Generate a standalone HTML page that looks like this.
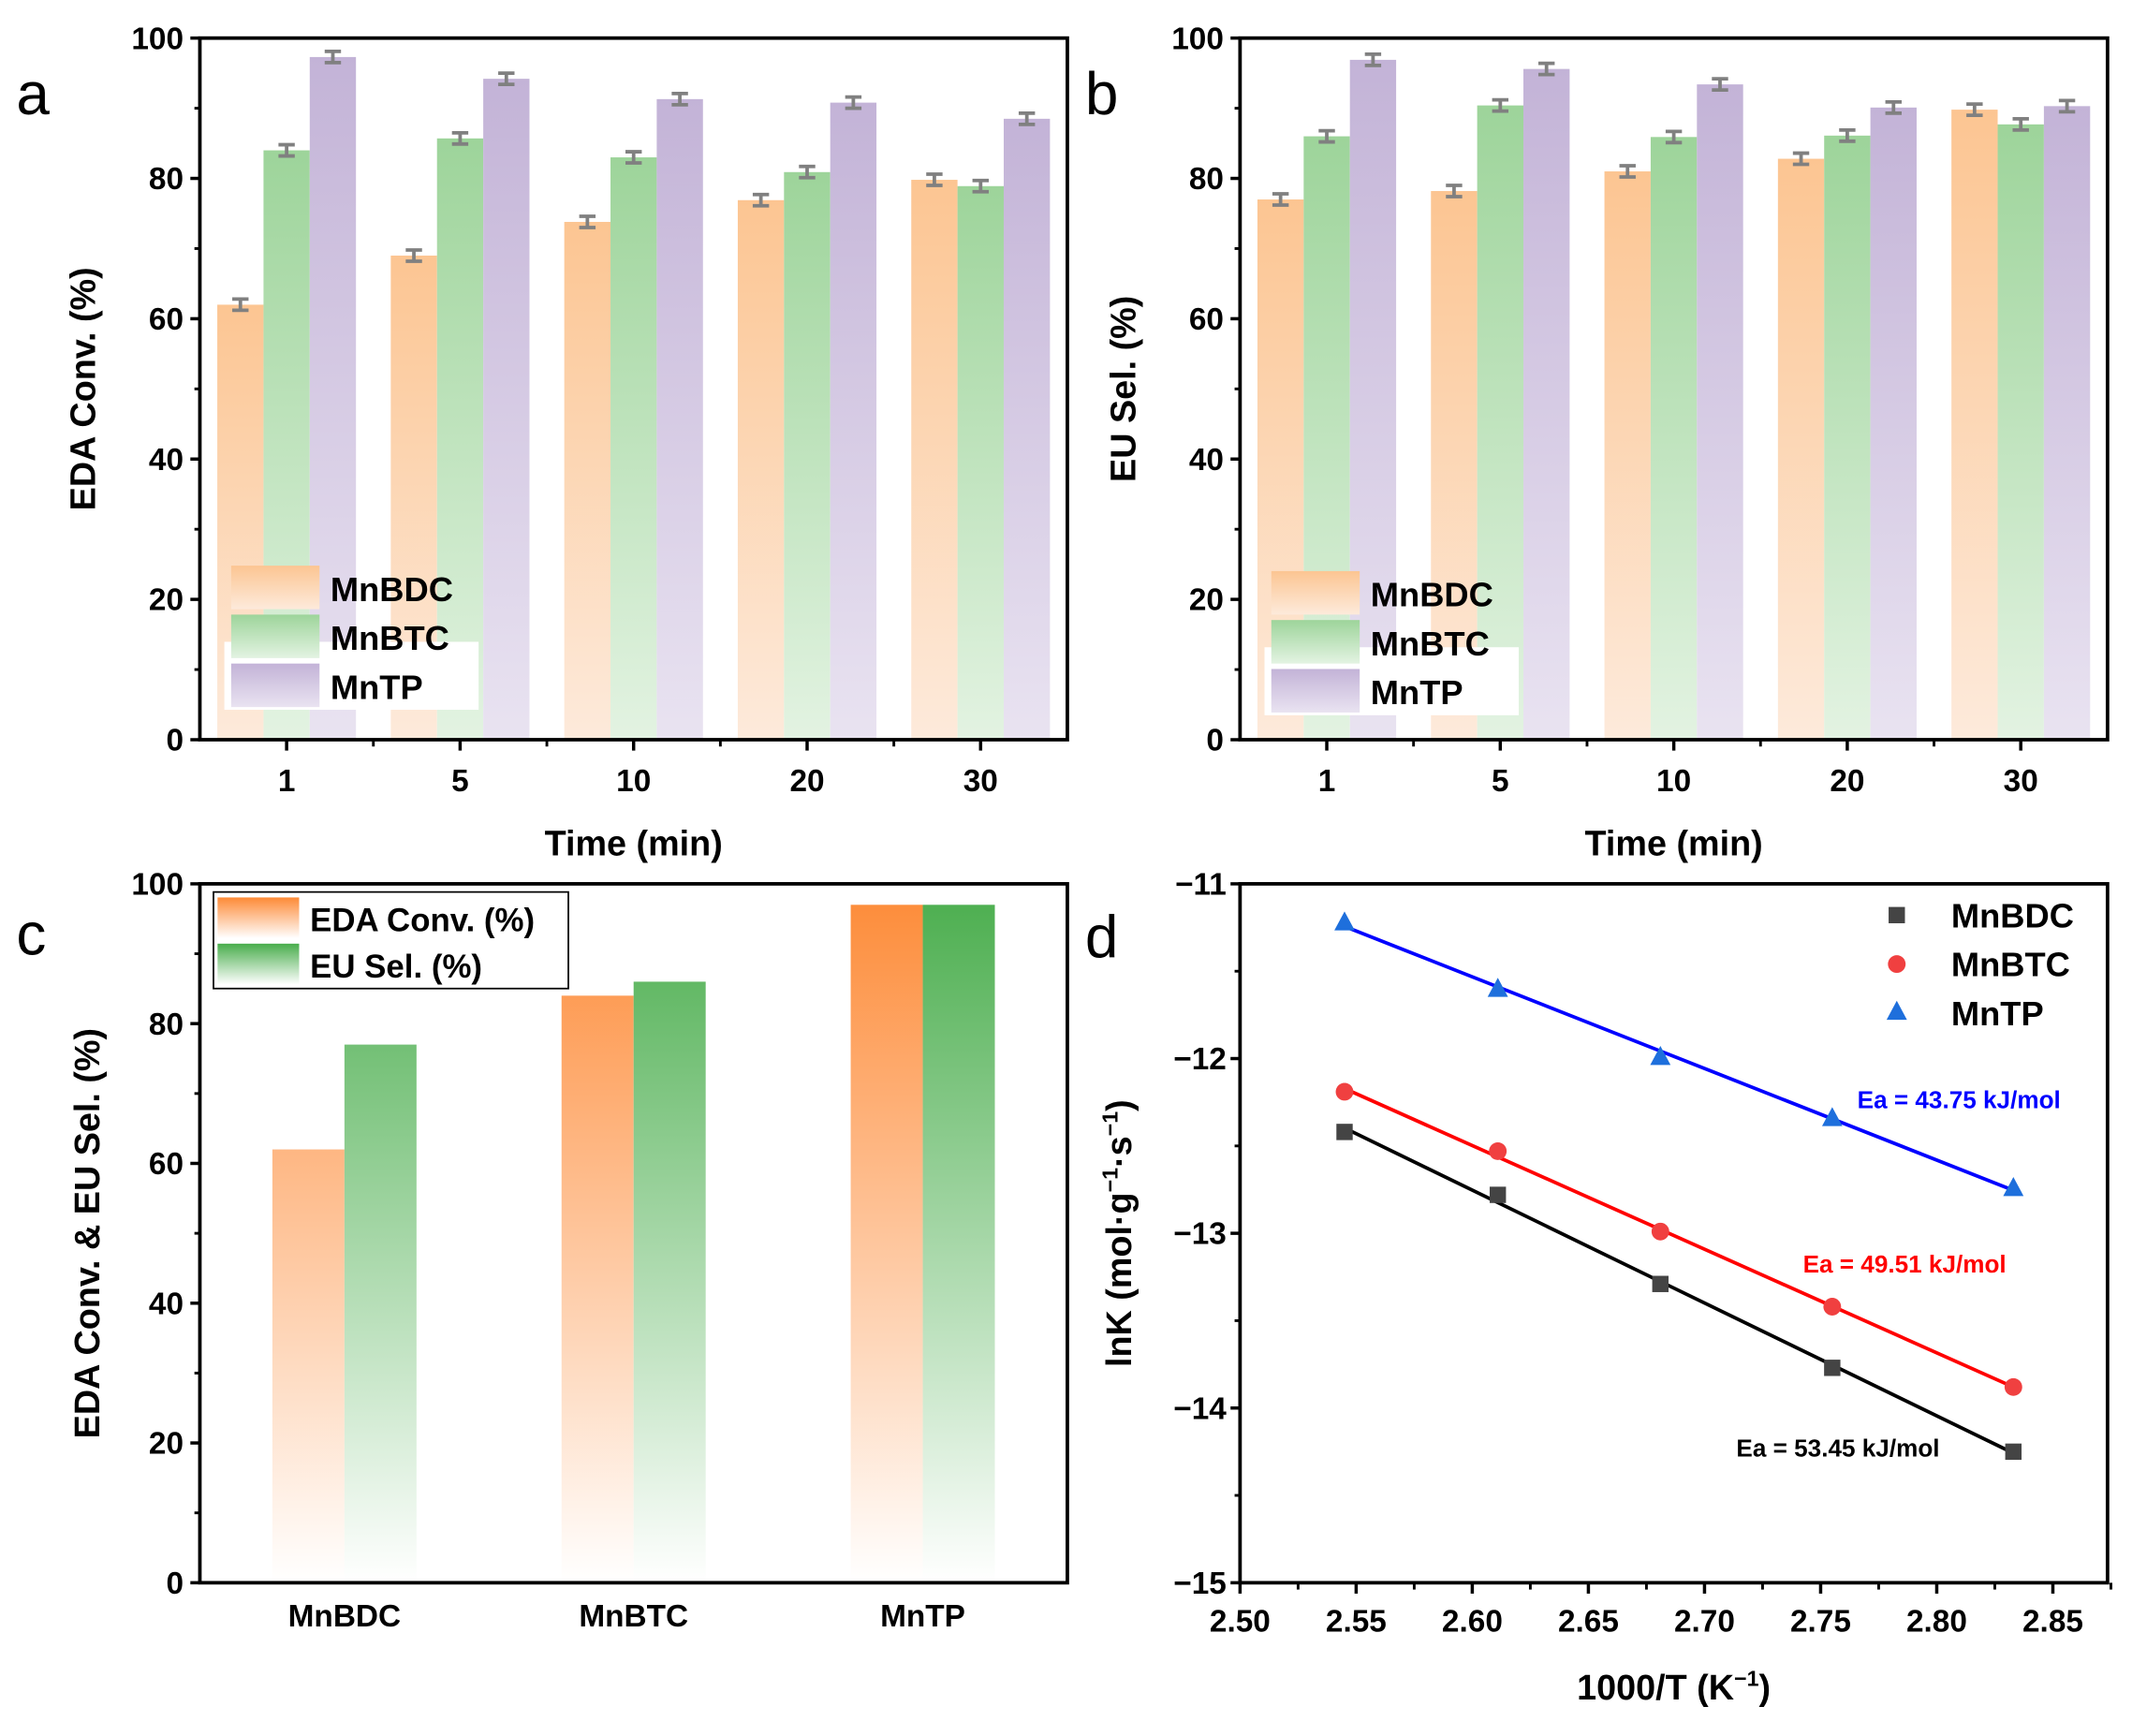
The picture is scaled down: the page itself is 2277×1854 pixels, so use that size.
<!DOCTYPE html>
<html><head><meta charset="utf-8"><style>
html,body{margin:0;padding:0;background:#fff;}
svg{display:block;font-family:"Liberation Sans",Arial,sans-serif;font-weight:bold;}
</style></head><body>
<svg id="fig" xmlns="http://www.w3.org/2000/svg" width="2277" height="1854" viewBox="0 0 1568 1276.7">
<defs>
<linearGradient id="gOr" x1="0" y1="0" x2="0" y2="1"><stop offset="0" stop-color="#fcc592"/><stop offset="1" stop-color="#fdeadb"/></linearGradient>
<linearGradient id="gGr" x1="0" y1="0" x2="0" y2="1"><stop offset="0" stop-color="#9dd49a"/><stop offset="1" stop-color="#e3f3e2"/></linearGradient>
<linearGradient id="gPu" x1="0" y1="0" x2="0" y2="1"><stop offset="0" stop-color="#c3b3d7"/><stop offset="1" stop-color="#e9e3f1"/></linearGradient>
<linearGradient id="gOrC" gradientUnits="userSpaceOnUse" x1="0" y1="650" x2="0" y2="1164"><stop offset="0" stop-color="#fd8a36"/><stop offset="1" stop-color="#ffffff"/></linearGradient>
<linearGradient id="gGrC" gradientUnits="userSpaceOnUse" x1="0" y1="650" x2="0" y2="1164"><stop offset="0" stop-color="#49ad4c"/><stop offset="1" stop-color="#ffffff"/></linearGradient>
<linearGradient id="gOrL" x1="0" y1="0" x2="0" y2="1"><stop offset="0" stop-color="#fd8a36"/><stop offset="1" stop-color="#ffffff"/></linearGradient>
<linearGradient id="gGrL" x1="0" y1="0" x2="0" y2="1"><stop offset="0" stop-color="#49ad4c"/><stop offset="1" stop-color="#ffffff"/></linearGradient>
</defs>
</svg>
<script>
const categoriesAB = ['1','5','10','20','30'];
const convBDC = [62, 69, 73.8, 76.9, 79.8];
const convBTC = [84, 85.7, 83, 80.9, 78.9];
const convTP = [97.3, 94.2, 91.3, 90.8, 88.5];
const selBDC = [77, 78.2, 81, 82.8, 89.8];
const selBTC = [86, 90.4, 85.9, 86.1, 87.7];
const selTP = [96.9, 95.6, 93.4, 90.1, 90.3];
const errAB = 0.8;
const yTicksPct = [0,20,40,60,80,100];
const categoriesC = ['MnBDC','MnBTC','MnTP'];
const edaConv = [62, 84, 97];
const euSel = [77, 86, 97];
const xD = [2.545, 2.611, 2.681, 2.755, 2.833];
const lnBDC = [-12.42, -12.78, -13.29, -13.77, -14.25];
const lnBTC = [-12.19, -12.53, -12.99, -13.42, -13.88];
const lnTP = [-11.22, -11.60, -11.99, -12.34, -12.74];
const xTicksD = [2.50,2.55,2.60,2.65,2.70,2.75,2.80,2.85];
const yTicksD = [-11,-12,-13,-14,-15];

const svg = document.getElementById('fig');
const NS = 'http://www.w3.org/2000/svg';
function mk(tag, attrs, parent){const e=document.createElementNS(NS,tag);for(const k in attrs)e.setAttribute(k,attrs[k]);(parent||svg).appendChild(e);return e;}
function txt(s, attrs, parent){const e=mk('text',attrs,parent);e.textContent=s;return e;}
const TICKFS=23;

function frame(g,L,T,R,B){
  const r=mk('rect',{x:L,y:T,width:R-L,height:B-T,fill:'none',stroke:'#000','stroke-width':2.6},g);
  
  
}

function barPanel(name,L,T,R,B,series,grads,ytitle,letter,legendY){
  const g=mk('g',{});
  
  
  const y=v=>B-(v/100)*(B-T);
  const bw=(R-L)/categoriesAB.length;
  const x=i=>L+bw*(i+0.5);
  const w=34;
  series.forEach((s,si)=>{
    s.forEach((v,i)=>{
      const bx=x(i)+(si-1.5)*w;
      const r=mk('rect',{x:bx,y:y(v),width:w,height:B-y(v),fill:'url(#'+grads[si]+')'},g);
      
      
      const cx=bx+w/2;
      const eb=mk('path',{d:`M${cx},${y(v+errAB)}V${y(v-errAB)}M${cx-6},${y(v+errAB)}h12M${cx-6},${y(v-errAB)}h12`,stroke:'#808080','stroke-width':2.6,fill:'none'},g);
      
      
    });
  });
  const lg=mk('g',{},g);
  
  
  mk('rect',{x:L+18,y:legendY+56,width:187,height:50,fill:'#fff'},lg);
  ['MnBDC','MnBTC','MnTP'].forEach((n,i)=>{
    mk('rect',{x:L+23,y:legendY+i*36,width:65,height:32,fill:'url(#'+grads[i]+')'},lg);
    const t=txt(n,{x:L+96,y:legendY+i*36+26,'font-size':25},lg);
    
    
  });
  frame(g,L,T,R,B);
  yTicksPct.forEach(v=>{
    mk('line',{x1:L-7,x2:L,y1:y(v),y2:y(v),stroke:'#000','stroke-width':2.4},g);
    const t=txt(v,{x:L-12,y:y(v)+8,'font-size':TICKFS,'text-anchor':'end'},g);
    
    
  });
  for(let v=10;v<100;v+=20) mk('line',{x1:L-4,x2:L,y1:y(v),y2:y(v),stroke:'#000','stroke-width':2},g);
  categoriesAB.forEach((c,i)=>{
    mk('line',{x1:x(i),x2:x(i),y1:B,y2:B+8,stroke:'#000','stroke-width':2.4},g);
    if(i>0) mk('line',{x1:L+bw*i,x2:L+bw*i,y1:B,y2:B+5,stroke:'#000','stroke-width':2},g);
    const t=txt(c,{x:x(i),y:B+38,'font-size':TICKFS,'text-anchor':'middle'},g);
    
    
  });
  const xt=txt('Time (min)',{x:(L+R)/2,y:B+85,'font-size':26,'text-anchor':'middle'},g);
  
  
  const yt=txt(ytitle,{x:0,y:0,'font-size':26,'text-anchor':'middle',transform:`translate(${L-77},${(T+B)/2}) rotate(-90)`},g);
  
  
  const pl=txt(letter,{x:L-(letter==='a'?135:114),y:T+56,'font-size':44,'font-weight':'normal'},g);
  
  
}
barPanel('panel-a',147,28,785,544,[convBDC,convBTC,convTP],['gOr','gGr','gPu'],'EDA Conv. (%)','a',416);
barPanel('panel-b',912,28,1550,544,[selBDC,selBTC,selTP],['gOr','gGr','gPu'],'EU Sel. (%)','b',420);

(function(){
  const L=147,T=650,R=785,B=1164;
  const g=mk('g',{});
  
  
  const y=v=>B-(v/100)*(B-T);
  const bw=(R-L)/categoriesC.length;
  const x=i=>L+bw*(i+0.5);
  const w=53;
  [edaConv,euSel].forEach((s,si)=>{
    s.forEach((v,i)=>{
      const r=mk('rect',{x:x(i)-w+si*w,y:y(v),width:w,height:B-y(v),fill:si?'url(#gGrC)':'url(#gOrC)'},g);
      
      
    });
  });
  const lg=mk('g',{},g);
  
  
  mk('rect',{x:157,y:656,width:261,height:71,fill:'#fff',stroke:'#000','stroke-width':1.2},lg);
  [['EDA Conv. (%)','gOrL'],['EU Sel. (%)','gGrL']].forEach((e,i)=>{
    mk('rect',{x:160,y:660+i*34,width:60,height:30,fill:'url(#'+e[1]+')'},lg);
    const t=txt(e[0],{x:228,y:685+i*34,'font-size':24},lg);
    
    
  });
  frame(g,L,T,R,B);
  yTicksPct.forEach(v=>{
    mk('line',{x1:L-7,x2:L,y1:y(v),y2:y(v),stroke:'#000','stroke-width':2.4},g);
    const t=txt(v,{x:L-12,y:y(v)+8,'font-size':TICKFS,'text-anchor':'end'},g);
    
    
  });
  for(let v=10;v<100;v+=20) mk('line',{x1:L-4,x2:L,y1:y(v),y2:y(v),stroke:'#000','stroke-width':2},g);
  categoriesC.forEach((c,i)=>{
    const t=txt(c,{x:x(i),y:B+32,'font-size':TICKFS,'text-anchor':'middle'},g);
    
    
  });
  const yt=txt('EDA Conv. & EU Sel. (%)',{x:0,y:0,'font-size':26,'text-anchor':'middle',transform:`translate(${L-74},${(T+B)/2}) rotate(-90)`},g);
  
  
  const pl=txt('c',{x:12,y:T+52,'font-size':44,'font-weight':'normal'},g);
  
  
})();

(function(){
  const L=912,T=650,R=1550,B=1164;
  const g=mk('g',{});
  
  
  const x0=2.5, xpx=85.4/0.05;
  const x=v=>L+(v-x0)*xpx;
  const y=v=>T+(-11-v)/4*(B-T);
  frame(g,L,T,R,B);
  xTicksD.forEach(v=>{
    mk('line',{x1:x(v),x2:x(v),y1:B,y2:B+8,stroke:'#000','stroke-width':2.4},g);
    mk('line',{x1:x(v+0.025),x2:x(v+0.025),y1:B,y2:B+5,stroke:'#000','stroke-width':2},g);
    const t=txt(v.toFixed(2),{x:x(v),y:B+36,'font-size':TICKFS,'text-anchor':'middle'},g);
    
    
  });
  yTicksD.forEach(v=>{
    mk('line',{x1:L-7,x2:L,y1:y(v),y2:y(v),stroke:'#000','stroke-width':2.4},g);
    if(v>-15) mk('line',{x1:L-4,x2:L,y1:y(v-0.5),y2:y(v-0.5),stroke:'#000','stroke-width':2},g);
    const t=txt('\u2212'+Math.abs(v),{x:L-10,y:y(v)+8,'font-size':TICKFS,'text-anchor':'end'},g);
    
    
  });
  const specs=[[lnBDC,'#000','#444','square','mnbdc'],[lnBTC,'#ff0000','#f04040','circle','mnbtc'],[lnTP,'#0000ff','#1e6fdc','triangle','mntp']];
  specs.forEach(([ys,lc,mc,shape,nm])=>{
    const n=xD.length;let mx=0,my=0;xD.forEach((v,i)=>{mx+=v;my+=ys[i];});mx/=n;my/=n;
    let sxy=0,sxx=0;xD.forEach((v,i)=>{sxy+=(v-mx)*(ys[i]-my);sxx+=(v-mx)*(v-mx);});
    const b=sxy/sxx,a=my-b*mx;
    const xa=xD[0],xb=xD[n-1];
    const ln=mk('line',{x1:x(xa),y1:y(a+b*xa),x2:x(xb),y2:y(a+b*xb),stroke:lc,'stroke-width':2.6},g);
    
    
    ys.forEach((v,i)=>{
      const px=x(xD[i]),py=y(v);let m;
      if(shape==='square') m=mk('rect',{x:px-6,y:py-6,width:12,height:12,fill:mc},g);
      else if(shape==='circle') m=mk('circle',{cx:px,cy:py,r:6.5,fill:mc},g);
      else m=mk('path',{d:`M${px},${py-8}L${px+7.5},${py+6}L${px-7.5},${py+6}Z`,fill:mc},g);
      
      
    });
  });
  const lg=mk('g',{},g);
  
  
  mk('rect',{x:1389,y:667,width:12,height:12,fill:'#444'},lg);
  mk('circle',{cx:1395,cy:709,r:6.5,fill:'#f04040'},lg);
  mk('path',{d:'M1395,736L1402.5,750L1387.5,750Z',fill:'#1e6fdc'},lg);
  ['MnBDC','MnBTC','MnTP'].forEach((n,i)=>{
    const t=txt(n,{x:1435,y:682+i*36,'font-size':25},lg);
    
    
  });
  [['Ea = 43.75 kJ/mol',1366,815,'#0000ff'],['Ea = 49.51 kJ/mol',1326,936,'#ff0000'],['Ea = 53.45 kJ/mol',1277,1071,'#000']].forEach(a=>{
    const t=txt(a[0],{x:a[1],y:a[2],'font-size':18,fill:a[3]},g);
    
    
  });
  const xt=mk('text',{x:(L+R)/2,y:B+86,'font-size':26,'text-anchor':'middle'},g);
  xt.innerHTML='1000/T (K<tspan dy="-10" font-size="16">\u22121</tspan><tspan dy="10">)</tspan>';
  
  
  const yt=mk('text',{x:0,y:0,'font-size':26,'text-anchor':'middle',transform:`translate(${L-80},${(T+B)/2}) rotate(-90)`},g);
  yt.innerHTML='lnK (mol\u00b7g<tspan dy="-10" font-size="16">\u22121</tspan><tspan dy="10">\u00b7s</tspan><tspan dy="-10" font-size="16">\u22121</tspan><tspan dy="10">)</tspan>';
  
  
  const pl=txt('d',{x:798,y:T+54,'font-size':44,'font-weight':'normal'},g);
  
  
})();
</script>
</body></html>
